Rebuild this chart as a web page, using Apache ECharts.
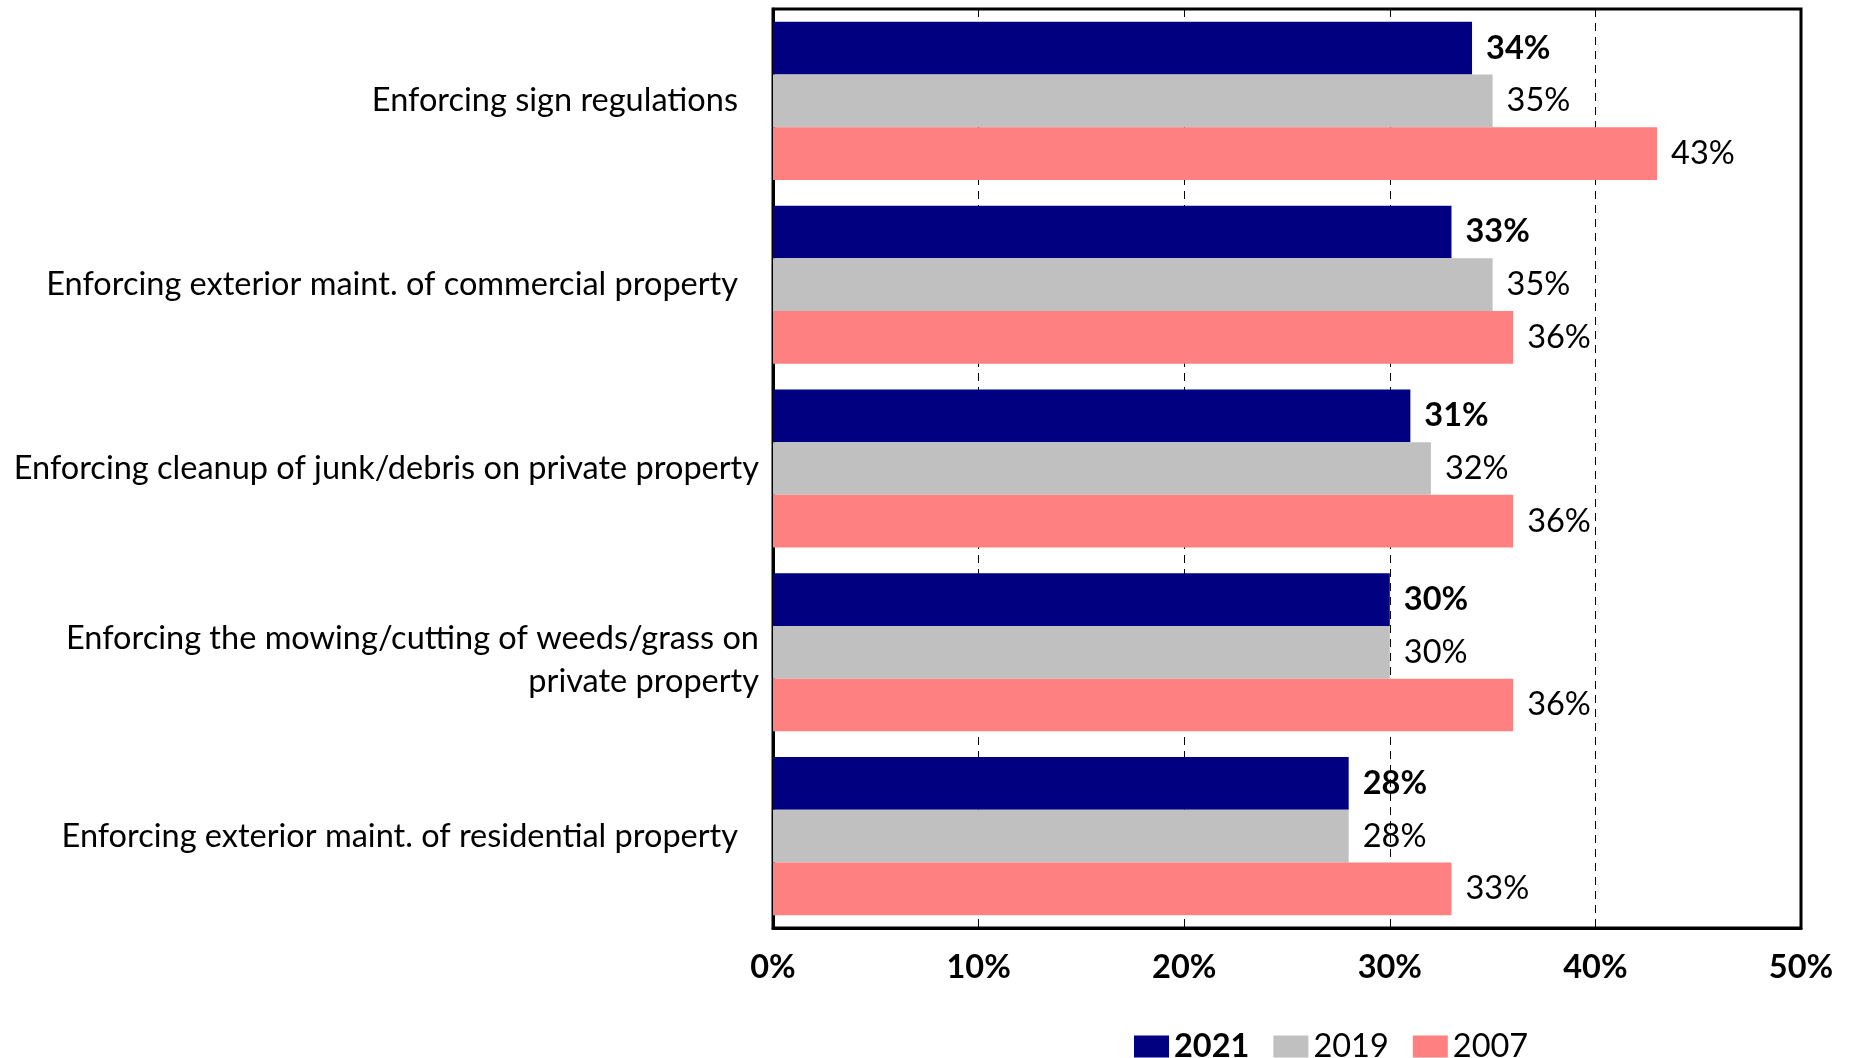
<!DOCTYPE html>
<html>
<head>
<meta charset="utf-8">
<style>
  html, body { margin: 0; padding: 0; background: #fff; }
  #chart { width: 1855px; height: 1058px; }
</style>
<script src="https://cdn.jsdelivr.net/npm/echarts@6/dist/echarts.min.js"></script>
</head>
<body>
<div id="chart"></div>
<script>
// Code enforcement priorities, share of respondents by survey year
const categories = [
  'Enforcing sign regulations',
  'Enforcing exterior maint. of commercial property',
  'Enforcing cleanup of junk/debris on private property',
  'Enforcing the mowing/cutting of weeds/grass on\nprivate property',
  'Enforcing exterior maint. of residential property'
];
const seriesNames = ['2021', '2019', '2007'];
const values2021 = [34, 33, 31, 30, 28];
const values2019 = [35, 35, 32, 30, 28];
const values2007 = [43, 36, 36, 36, 33];
const xTicks = [0, 10, 20, 30, 40, 50];

const FONT = 'Lato, "Open Sans", sans-serif';
const FS = 32.5;
const colors = ['#000080', '#C0C0C0', '#FF8080'];
const allValues = [values2021, values2019, values2007];

// single-line labels keep extra space before the axis
function formatCategory(v) {
  if (v.indexOf('\n') >= 0) {
    // two-line label sits slightly below the band centre
    return '{e| }\n' + v.split('\n').map(s => '{w|' + s + '}').join('\n');
  }
  if (v.length > 50) return '{w|' + v + '}';
  return '{p|' + v + '}';
}

const chart = echarts.init(document.getElementById('chart'), null, { renderer: 'canvas' });

const option = {
  animation: false,
  backgroundColor: '#fff',
  grid: {
    left: 773, right: 54, top: 9, bottom: 130,
    show: true, borderColor: '#000', borderWidth: 3, backgroundColor: 'transparent'
  },
  legend: {
    left: 1129, top: 1025,
    itemWidth: 35, itemHeight: 22, itemGap: 24,
    icon: 'rect',
    textStyle: { fontFamily: FONT, fontSize: FS, color: '#000' },
    data: seriesNames.map((n, i) => ({
      name: n,
      textStyle: { fontWeight: i === 0 ? 'bold' : 'normal' }
    }))
  },
  xAxis: {
    type: 'value',
    min: xTicks[0], max: xTicks[xTicks.length - 1], interval: 10,
    axisLine: { show: true, lineStyle: { color: '#000', width: 3 } },
    axisTick: { show: true, inside: true, length: 6, lineStyle: { color: '#000', width: 1 } },
    splitLine: { show: true, lineStyle: { color: '#000', width: 1, type: [8, 6] } },
    axisLabel: {
      fontFamily: FONT, fontSize: FS, fontWeight: 'bold', color: '#000', margin: 23,
      formatter: v => v + '%'
    }
  },
  yAxis: {
    type: 'category',
    inverse: true,
    data: categories,
    axisLine: { show: true, lineStyle: { color: '#000', width: 3 } },
    axisTick: { show: false },
    axisLabel: {
      fontFamily: FONT, fontSize: FS, color: '#000', align: 'right',
      margin: 14,
      formatter: formatCategory,
      rich: {
        p: { fontFamily: FONT, fontSize: FS, color: '#000', lineHeight: 43, padding: [0, 21, 0, 0] },
        w: { fontFamily: FONT, fontSize: FS, color: '#000', lineHeight: 43 },
        e: { fontSize: 8, lineHeight: 16 }
      }
    }
  },
  series: seriesNames.map((name, i) => ({
    name: name,
    type: 'bar',
    data: allValues[i],
    barGap: '0%',
    barCategoryGap: '14%',
    itemStyle: { color: colors[i] },
    label: {
      show: true,
      position: 'right',
      distance: 14,
      fontFamily: FONT,
      fontSize: FS,
      fontWeight: i === 0 ? 'bold' : 'normal',
      color: '#000',
      formatter: p => p.value + '%'
    }
  }))
};

chart.setOption(option);
</script>
</body>
</html>
